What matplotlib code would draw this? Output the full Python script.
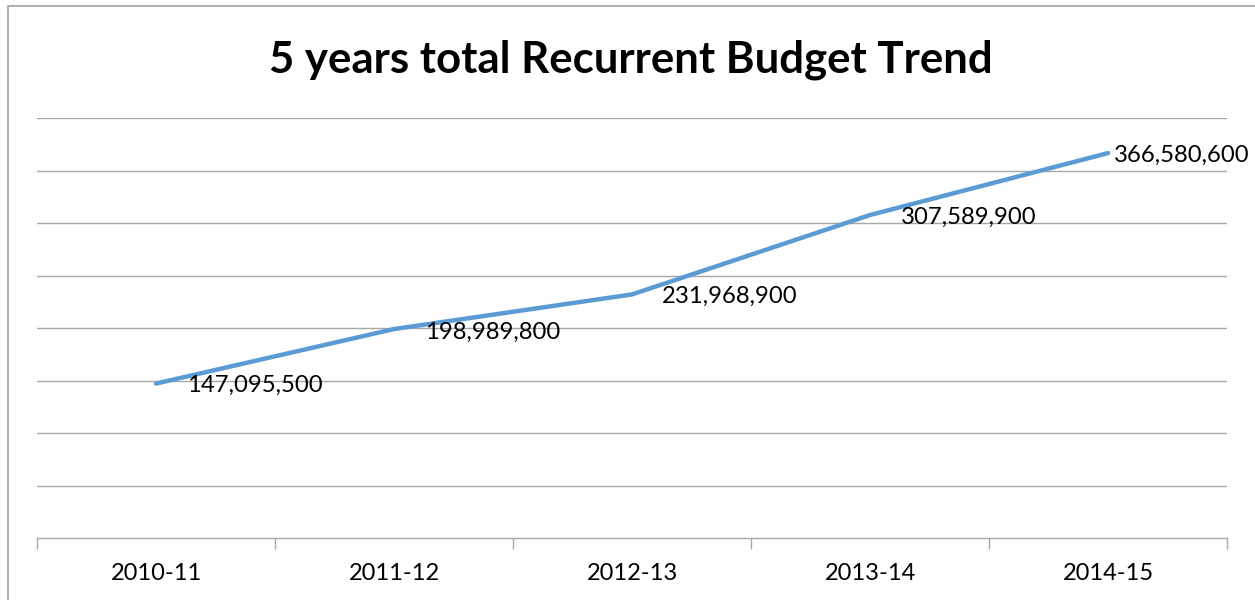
import matplotlib
matplotlib.use("Agg")
import matplotlib.pyplot as plt
from matplotlib.patches import Rectangle
import numpy as np

categories = ["2010-11", "2011-12", "2012-13", "2013-14", "2014-15"]
values = [147095500, 198989800, 231968900, 307589900, 366580600]
value_labels = ["147,095,500", "198,989,800", "231,968,900", "307,589,900", "366,580,600"]
title = "5 years total Recurrent Budget Trend"

label_offsets_px = [(31, -2), (31, -3), (30, -2), (31, -2), (6, -2)]

W, H = 1255, 600
fig = plt.figure(figsize=(W / 100, H / 100), dpi=100)
fig.patch.set_facecolor("white")

# outer chart border (only left/top visible in crop)
fig.patches.append(Rectangle((8 / W, -0.1), 1.2, (H - 6) / H + 0.1, transform=fig.transFigure,
                             fill=False, edgecolor="#A0A0A0", linewidth=1.2))

left, right = 37 / W, 1227 / W
bottom, top = (H - 538) / H, (H - 118) / H
ax = fig.add_axes([left, bottom, right - left, top - bottom])
ax.set_facecolor("none")

x = np.arange(len(categories))
ax.plot(x, values, color="#5B9BD5", linewidth=3.2, solid_joinstyle="round", solid_capstyle="round", zorder=3)

ax.set_xlim(-0.5, len(categories) - 0.5)
ax.set_ylim(0, 400_000_000)

for g in np.arange(50_000_000, 400_000_001, 50_000_000):
    ax.axhline(g, color="#A6A6A6", linewidth=1.0, zorder=1)

for s in ["left", "right", "top"]:
    ax.spines[s].set_visible(False)
ax.spines["bottom"].set_color("#A6A6A6")
ax.spines["bottom"].set_linewidth(1.0)

ax.set_yticks([])
ax.set_xticks(x)
ax.set_xticklabels(categories, fontfamily="Lato", fontsize=17, color="#000000")
ax.tick_params(axis="x", which="major", length=0, pad=18)
ax.set_xticks(np.arange(-0.5, len(categories)), minor=True)
ax.tick_params(axis="x", which="minor", length=8, color="#A6A6A6", width=1.0, direction="out")

for xi, v, lab, off in zip(x, values, value_labels, label_offsets_px):
    ax.annotate(lab, (xi, v), xytext=off, textcoords="offset pixels",
                ha="left", va="center", fontfamily="Lato", fontsize=17.2, color="#000000",
                annotation_clip=False, zorder=4)

fig.text(630.5 / W, 1 - 73 / H, title, ha="center", va="baseline",
         fontfamily="Lato", fontweight="bold", fontsize=31.5, color="#000000")

fig.savefig("out.png", dpi=100, facecolor="white")
